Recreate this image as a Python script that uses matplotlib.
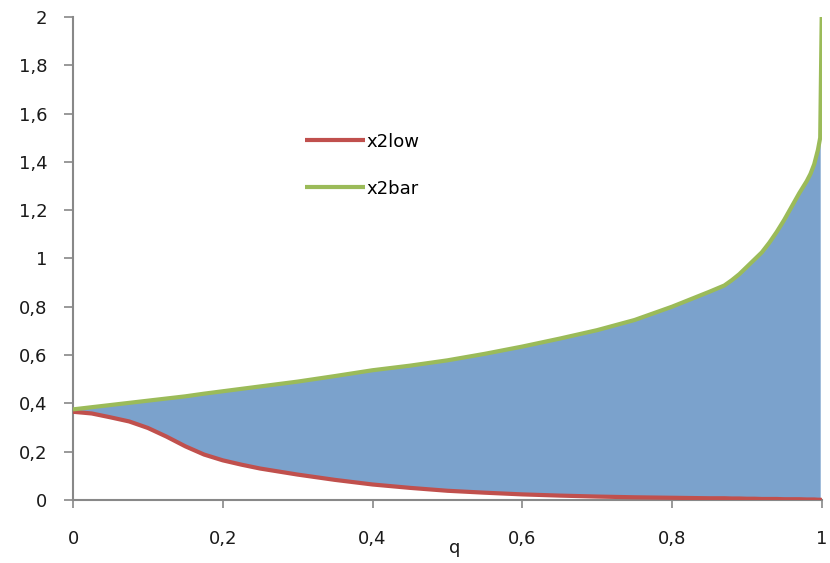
import matplotlib
matplotlib.use("Agg")
import matplotlib.pyplot as plt
import numpy as np
from matplotlib.ticker import FuncFormatter, MultipleLocator

# 데이터
q = np.array([0, 0.025, 0.05, 0.075, 0.1, 0.125, 0.15, 0.175, 0.2, 0.225, 0.25,
              0.3, 0.35, 0.4, 0.45, 0.5, 0.55, 0.6, 0.65, 0.7, 0.75, 0.8, 0.85,
              0.87, 0.88, 0.89, 0.9, 0.91, 0.92, 0.93, 0.94, 0.95, 0.96, 0.97,
              0.98, 0.985, 0.99, 0.995, 0.998, 1.0])
x2bar = np.array([0.375, 0.384, 0.393, 0.402, 0.411, 0.42, 0.429, 0.44, 0.45,
                  0.46, 0.47, 0.49, 0.513, 0.537, 0.556, 0.578, 0.605, 0.635,
                  0.668, 0.703, 0.745, 0.80, 0.862, 0.888, 0.91, 0.935, 0.965,
                  0.995, 1.025, 1.065, 1.11, 1.16, 1.215, 1.27, 1.32, 1.35,
                  1.39, 1.45, 1.50, 2.0])
x2low = np.array([0.365, 0.358, 0.342, 0.325, 0.298, 0.262, 0.222, 0.188, 0.164,
                  0.146, 0.13, 0.105, 0.083, 0.064, 0.05, 0.038, 0.03, 0.023,
                  0.018, 0.014, 0.011, 0.009, 0.007, 0.007, 0.006, 0.006, 0.005,
                  0.005, 0.004, 0.004, 0.004, 0.003, 0.003, 0.003, 0.002, 0.002,
                  0.002, 0.001, 0.001, 0.0])

RED = "#C0504D"
GREEN = "#9BBB59"
FILL = "#7BA2CC"
AXIS = "#888888"

fig = plt.figure(figsize=(8.3, 5.63), dpi=100)
ax = fig.add_axes([0.088, 0.112, 0.902, 0.858])

# 영역 채우기는 마지막 수직 구간(q=1) 제외
mask = q < 1.0
ax.fill_between(q[mask], x2low[mask], x2bar[mask], color=FILL, lw=0, zorder=1)
ax.plot(q, x2low, color=RED, lw=3, label="x2low", zorder=3,
        solid_capstyle="butt", solid_joinstyle="round")
ax.plot(q, x2bar, color=GREEN, lw=3, label="x2bar", zorder=3,
        solid_capstyle="butt", solid_joinstyle="round")

ax.set_xlim(0, 1)
ax.set_ylim(0, 2)
ax.xaxis.set_major_locator(MultipleLocator(0.2))
ax.yaxis.set_major_locator(MultipleLocator(0.2))
comma = FuncFormatter(lambda v, _: f"{v:.1f}".rstrip("0").rstrip(".").replace(".", ","))
ax.xaxis.set_major_formatter(comma)
ax.yaxis.set_major_formatter(comma)

for side in ("top", "right"):
    ax.spines[side].set_visible(False)
for side in ("left", "bottom"):
    ax.spines[side].set_color(AXIS)
    ax.spines[side].set_linewidth(1.5)

ax.tick_params(axis="y", direction="out", length=6.5, width=1.2, color=AXIS,
               pad=12, labelsize=13, labelcolor="#1a1a1a")
ax.tick_params(axis="x", direction="out", length=6, width=1.2, color=AXIS,
               pad=16, labelsize=13, labelcolor="#1a1a1a")

ax.set_xlabel("q", fontsize=13, color="#1a1a1a")
ax.xaxis.set_label_coords(0.51, -0.1)
ax.xaxis.label.set_va("center")

ax.legend(loc="center left", bbox_to_anchor=(0.31, 0.693), frameon=False,
          fontsize=13, handlelength=3.3, handletextpad=0.1, labelspacing=1.6,
          borderpad=0, borderaxespad=0)

fig.savefig("out.png", dpi=100)
